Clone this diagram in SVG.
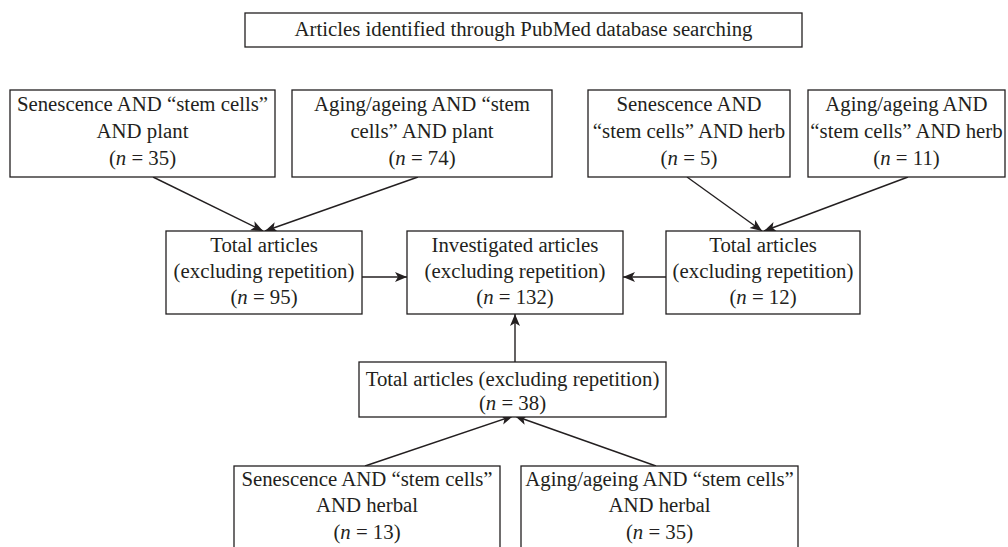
<svg xmlns="http://www.w3.org/2000/svg" width="1008" height="547" viewBox="0 0 1008 547">
<style>
.box{fill:#fff;stroke:#231f20;stroke-width:1.3}
.t{font-family:"Liberation Serif","Times New Roman",serif;font-size:20.8px;fill:#231f20;text-anchor:middle}
.i{font-style:italic}
.c{stroke:#231f20;stroke-width:1.4;fill:none;marker-end:url(#ah)}
</style>
<defs>
<marker id="ah" markerUnits="userSpaceOnUse" markerWidth="14" markerHeight="12" refX="12" refY="5" orient="auto">
<path d="M0,0 L12,5 L0,10 L3,5 Z" fill="#231f20"/>
</marker>
</defs>
<rect width="1008" height="547" fill="#fff"/>
<g id="connectors">
<line class="c" x1="153" y1="177" x2="263" y2="231"/>
<line class="c" x1="418" y1="177" x2="265" y2="231"/>
<line class="c" x1="687" y1="177" x2="762" y2="231"/>
<line class="c" x1="908" y1="177" x2="764" y2="231"/>
<line class="c" x1="362" y1="277" x2="407" y2="277"/>
<line class="c" x1="666" y1="277" x2="623" y2="277"/>
<line class="c" x1="515" y1="362" x2="515" y2="314"/>
<line class="c" x1="365" y1="466" x2="513" y2="416"/>
<line class="c" x1="656" y1="466" x2="515" y2="416"/>
</g>
<g id="top">
<rect class="box" x="245" y="13" width="557" height="34"/>
<text class="t" x="523.5" y="36">Articles identified through PubMed database searching</text>
</g>
<g id="b1">
<rect class="box" x="10" y="90" width="265" height="87"/>
<text class="t" x="142.5" y="111">Senescence AND “stem cells”</text>
<text class="t" x="142.5" y="138">AND plant</text>
<text class="t" x="142.5" y="165">(<tspan class="i">n</tspan> = 35)</text>
</g>
<g id="b2">
<rect class="box" x="292" y="90" width="260" height="87"/>
<text class="t" x="422" y="111">Aging/ageing AND “stem</text>
<text class="t" x="422" y="138">cells” AND plant</text>
<text class="t" x="422" y="165">(<tspan class="i">n</tspan> = 74)</text>
</g>
<g id="b3">
<rect class="box" x="588" y="90" width="202" height="87"/>
<text class="t" x="689" y="111">Senescence AND</text>
<text class="t" x="689" y="138">“stem cells” AND herb</text>
<text class="t" x="689" y="165">(<tspan class="i">n</tspan> = 5)</text>
</g>
<g id="b4">
<rect class="box" x="808" y="90" width="197" height="87"/>
<text class="t" x="906.5" y="111">Aging/ageing AND</text>
<text class="t" x="906.5" y="138">“stem cells” AND herb</text>
<text class="t" x="906.5" y="165">(<tspan class="i">n</tspan> = 11)</text>
</g>
<g id="t95">
<rect class="box" x="166" y="231" width="196" height="83"/>
<text class="t" x="264" y="252">Total articles</text>
<text class="t" x="264" y="278">(excluding repetition)</text>
<text class="t" x="264" y="304">(<tspan class="i">n</tspan> = 95)</text>
</g>
<g id="inv">
<rect class="box" x="407" y="231" width="216" height="83"/>
<text class="t" x="515" y="252">Investigated articles</text>
<text class="t" x="515" y="278">(excluding repetition)</text>
<text class="t" x="515" y="304">(<tspan class="i">n</tspan> = 132)</text>
</g>
<g id="t12">
<rect class="box" x="666" y="231" width="194" height="83"/>
<text class="t" x="763" y="252">Total articles</text>
<text class="t" x="763" y="278">(excluding repetition)</text>
<text class="t" x="763" y="304">(<tspan class="i">n</tspan> = 12)</text>
</g>
<g id="t38">
<rect class="box" x="359" y="362" width="307" height="55"/>
<text class="t" x="512.5" y="386">Total articles (excluding repetition)</text>
<text class="t" x="512.5" y="410">(<tspan class="i">n</tspan> = 38)</text>
</g>
<g id="bl">
<rect class="box" x="234" y="466" width="266" height="95"/>
<text class="t" x="367" y="486">Senescence AND “stem cells”</text>
<text class="t" x="367" y="512">AND herbal</text>
<text class="t" x="367" y="539">(<tspan class="i">n</tspan> = 13)</text>
</g>
<g id="br">
<rect class="box" x="521" y="466" width="277" height="95"/>
<text class="t" x="659.5" y="486">Aging/ageing AND “stem cells”</text>
<text class="t" x="659.5" y="512">AND herbal</text>
<text class="t" x="659.5" y="539">(<tspan class="i">n</tspan> = 35)</text>
</g>
</svg>
